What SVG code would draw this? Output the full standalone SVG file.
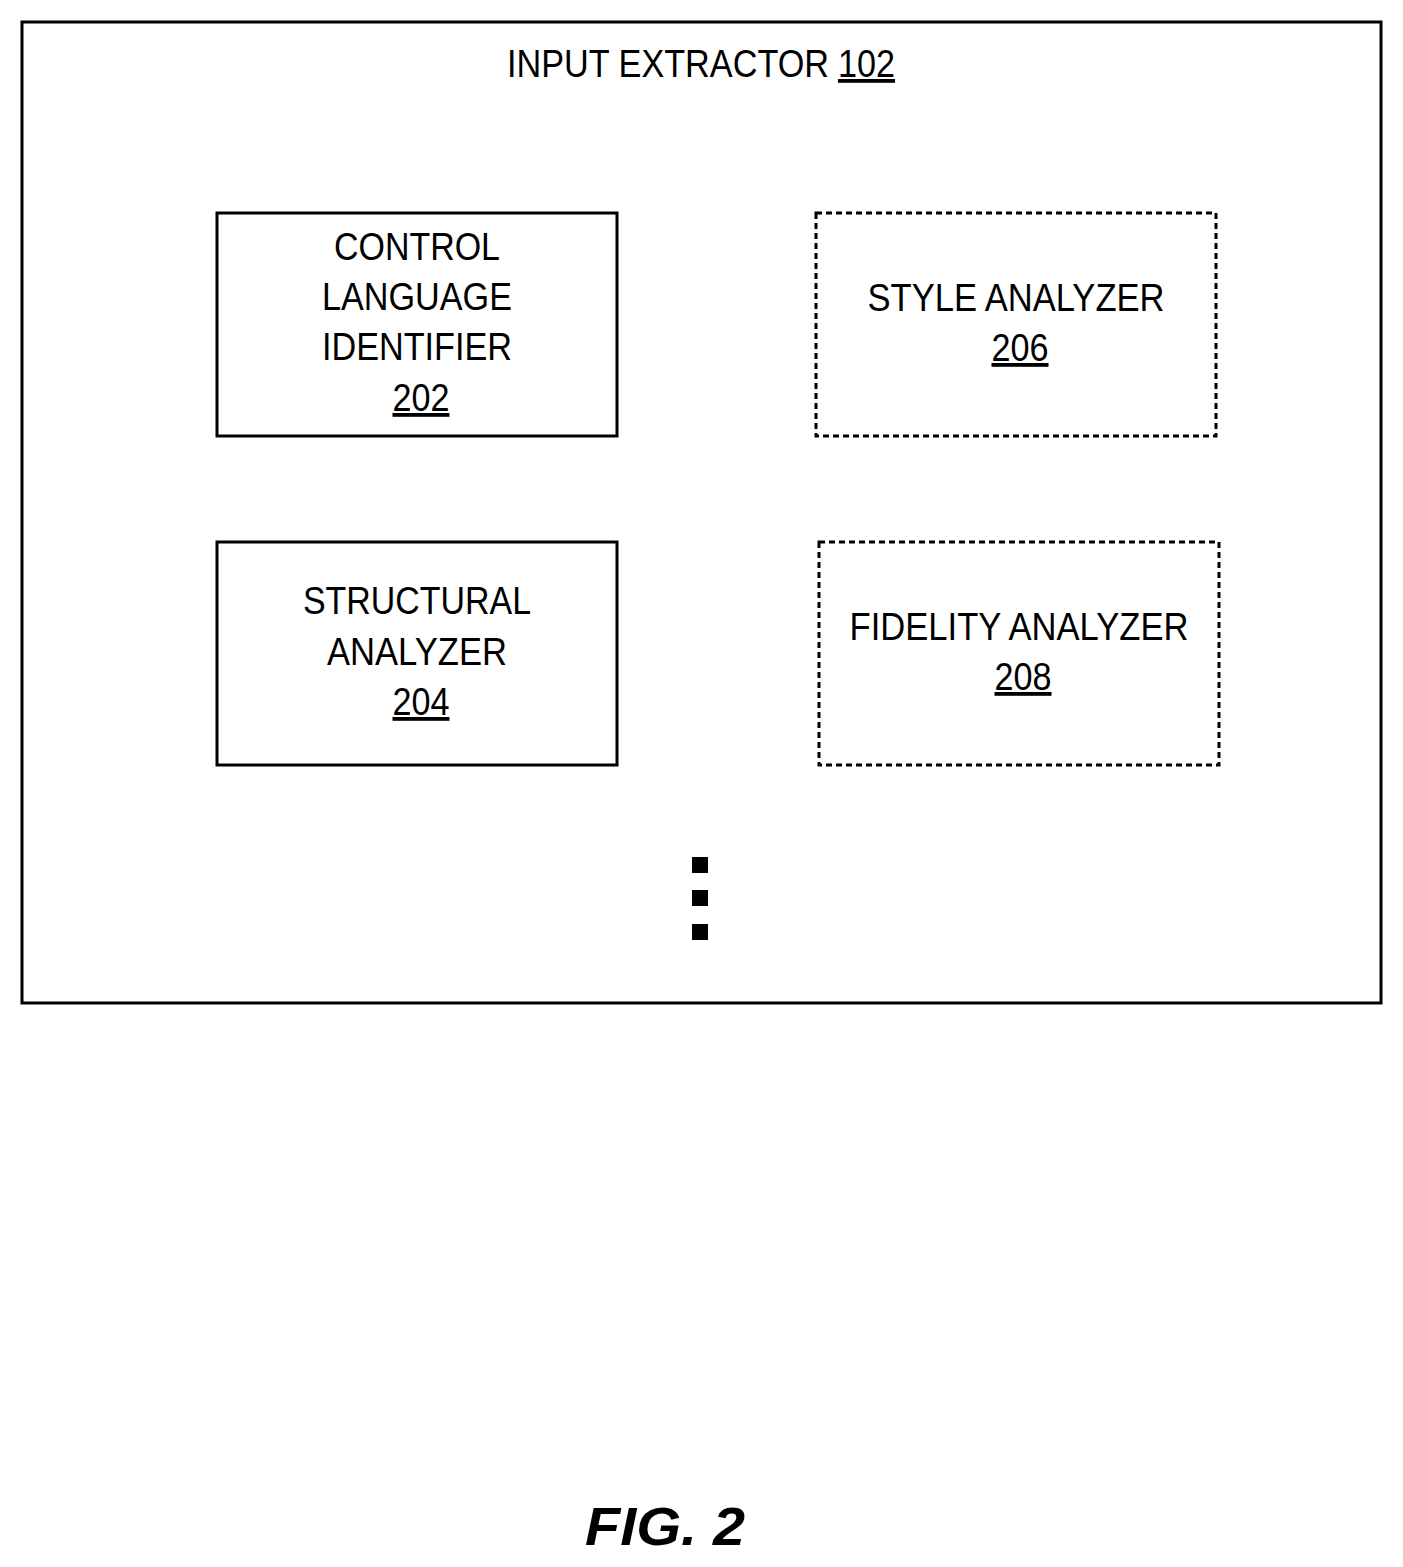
<svg xmlns="http://www.w3.org/2000/svg" width="1403" height="1567" viewBox="0 0 1403 1567">
<style>
text{font-family:"Liberation Sans Narrow","Liberation Sans",Arial,sans-serif;font-size:38px;fill:#000;text-anchor:middle}
.u{text-decoration:underline}
.box{fill:none;stroke:#000;stroke-width:3}
.dash{fill:none;stroke:#000;stroke-width:3;stroke-dasharray:6 4}
.fig{font-family:"Liberation Sans",Arial,sans-serif;font-size:54px;font-weight:bold;font-style:italic}
</style>
<rect width="1403" height="1567" fill="#fff"/>
<g id="input-extractor">
<rect class="box" x="22" y="22" width="1359" height="981"/>
<text x="668" y="77" textLength="322" lengthAdjust="spacingAndGlyphs">INPUT EXTRACTOR</text>
<text x="866.5" y="77" class="u" textLength="57" lengthAdjust="spacingAndGlyphs">102</text>
</g>
<g id="n202">
<rect class="box" x="217" y="213" width="400" height="223"/>
<text x="417" y="260" textLength="166" lengthAdjust="spacingAndGlyphs">CONTROL</text>
<text x="417" y="310" textLength="190" lengthAdjust="spacingAndGlyphs">LANGUAGE</text>
<text x="417" y="360" textLength="190" lengthAdjust="spacingAndGlyphs">IDENTIFIER</text>
<text x="421" y="411" class="u" textLength="57" lengthAdjust="spacingAndGlyphs">202</text>
</g>
<g id="n206">
<rect class="dash" x="816" y="213" width="400" height="223"/>
<text x="1016" y="311" textLength="297" lengthAdjust="spacingAndGlyphs">STYLE ANALYZER</text>
<text x="1020" y="361" class="u" textLength="57" lengthAdjust="spacingAndGlyphs">206</text>
</g>
<g id="n204">
<rect class="box" x="217" y="542" width="400" height="223"/>
<text x="417" y="614" textLength="228" lengthAdjust="spacingAndGlyphs">STRUCTURAL</text>
<text x="417" y="665" textLength="180" lengthAdjust="spacingAndGlyphs">ANALYZER</text>
<text x="421" y="715" class="u" textLength="57" lengthAdjust="spacingAndGlyphs">204</text>
</g>
<g id="n208">
<rect class="dash" x="819" y="542" width="400" height="223"/>
<text x="1019" y="640" textLength="339" lengthAdjust="spacingAndGlyphs">FIDELITY ANALYZER</text>
<text x="1023" y="690" class="u" textLength="57" lengthAdjust="spacingAndGlyphs">208</text>
</g>
<g id="ellipsis">
<rect x="692" y="857" width="16" height="16"/>
<rect x="692" y="890" width="16" height="16"/>
<rect x="692" y="924" width="16" height="16"/>
</g>
<g id="connectors"></g>
<text class="fig" x="665" y="1545" textLength="160" lengthAdjust="spacingAndGlyphs">FIG. 2</text>
</svg>
